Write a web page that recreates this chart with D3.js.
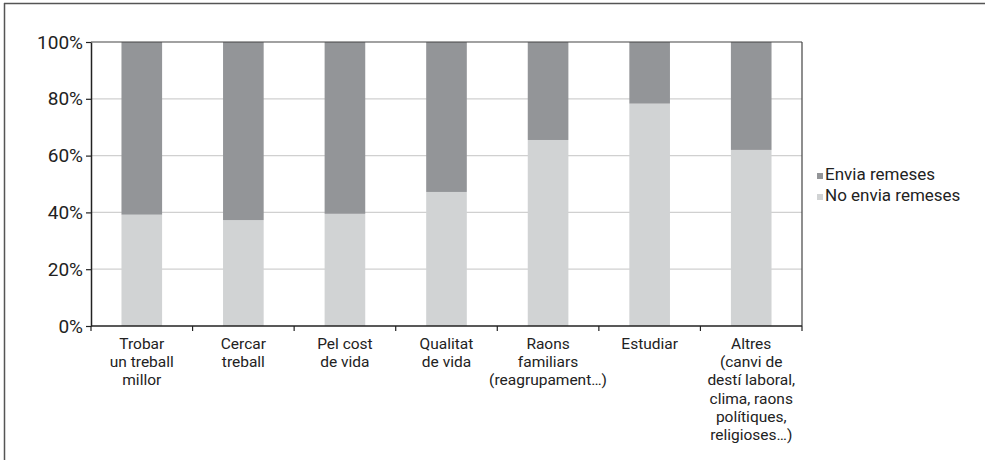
<!DOCTYPE html>
<html><head><meta charset="utf-8">
<script src="https://cdn.jsdelivr.net/npm/d3@7"></script>
<style>
html,body{margin:0;padding:0;background:#fff;}
svg{display:block;font-family:Roboto,"Noto Sans",sans-serif;}
</style></head>
<body>
<svg id="chart" width="985" height="460"></svg>
<script>
const categories = [
  ["Trobar","un treball","millor"],
  ["Cercar","treball"],
  ["Pel cost","de vida"],
  ["Qualitat","de vida"],
  ["Raons","familiars","(reagrupament…)"],
  ["Estudiar"],
  ["Altres","(canvi de","destí laboral,","clima, raons","polítiques,","religioses…)"]
];
const noEnvia = [39.2, 37.3, 39.5, 47.2, 65.5, 78.3, 62.0];
const envia = noEnvia.map(v => 100 - v);
const seriesNames = ["Envia remeses", "No envia remeses"];
const yTicks = [0, 20, 40, 60, 80, 100];
const colors = {"Envia remeses": "#939598", "No envia remeses": "#d1d3d4"};

const svg = d3.select("#chart");
const m = {left: 91, top: 42, right: 802, bottom: 326};

// outer frame (top and left)
svg.append("line").attr("x1",4).attr("x2",985).attr("y1",3.5).attr("y2",3.5).attr("stroke","#555").attr("stroke-width",1.5);
svg.append("line").attr("x1",4.5).attr("x2",4.5).attr("y1",3).attr("y2",460).attr("stroke","#555").attr("stroke-width",1.5);

const x = d3.scaleBand().domain(d3.range(categories.length)).range([m.left, m.right]).paddingInner(0.6).paddingOuter(0.3);
const xb = d3.scaleBand().domain(d3.range(categories.length)).range([m.left, m.right]);
const y = d3.scaleLinear().domain([0,100]).range([m.bottom, m.top]);

// gridlines
svg.append("g").selectAll("line").data(yTicks.filter(t => t>0 && t<100)).join("line")
  .attr("x1", m.left).attr("x2", m.right)
  .attr("y1", d => y(d)).attr("y2", d => y(d))
  .attr("stroke","#d0d0d0").attr("stroke-width",1.2);

// stacked bars
const rows = categories.map((c,i) => ({i, "No envia remeses": noEnvia[i], "Envia remeses": envia[i]}));
const stack = d3.stack().keys(["No envia remeses","Envia remeses"])(rows);
svg.append("g").selectAll("g").data(stack).join("g")
  .attr("fill", d => colors[d.key])
  .selectAll("rect").data(d => d).join("rect")
  .attr("x", d => x(d.data.i))
  .attr("width", x.bandwidth())
  .attr("y", d => y(d[1]))
  .attr("height", d => y(d[0]) - y(d[1]));

// plot frame top & right
svg.append("line").attr("x1",m.left).attr("x2",m.right).attr("y1",y(100)).attr("y2",y(100)).attr("stroke","#444").attr("stroke-width",1.2);
svg.append("line").attr("x1",m.right).attr("x2",m.right).attr("y1",m.top).attr("y2",m.bottom).attr("stroke","#444").attr("stroke-width",1.2);

// y axis
const yAxis = svg.append("g").attr("transform",`translate(${m.left},0)`)
  .call(d3.axisLeft(y).tickValues(yTicks).tickFormat(d => d + "%").tickSize(5).tickSizeOuter(0));
yAxis.select(".domain").attr("stroke","#222").attr("stroke-width",1.5);
yAxis.selectAll(".tick line").attr("stroke","#222").attr("stroke-width",1.2);
yAxis.selectAll("text").attr("font-size",19).attr("fill","#222").attr("x",-8).attr("font-family","Roboto, sans-serif");

// x axis baseline
svg.append("line").attr("x1",m.left).attr("x2",m.right).attr("y1",m.bottom).attr("y2",m.bottom).attr("stroke","#222").attr("stroke-width",1.5);
// boundary ticks
const bounds = d3.range(categories.length+1).map(i => i < categories.length ? xb(i) : m.right);
svg.append("g").selectAll("line").data(bounds).join("line")
  .attr("x1", d=>d).attr("x2", d=>d).attr("y1", m.bottom).attr("y2", m.bottom+5)
  .attr("stroke","#222").attr("stroke-width",1.2);

// category labels
const lab = svg.append("g").selectAll("text").data(categories).join("text")
  .attr("x", (d,i) => xb(i) + xb.bandwidth()/2)
  .attr("y", m.bottom + 23)
  .attr("text-anchor","middle").attr("font-size",15.5).attr("fill","#222");
lab.selectAll("tspan").data(d => d).join("tspan")
  .attr("x", function(){ return this.parentNode.getAttribute("x"); })
  .attr("dy", (d,j) => j === 0 ? 0 : 18.2)
  .text(d => d);

// legend
const leg = svg.append("g").selectAll("g").data(seriesNames).join("g")
  .attr("transform", (d,i) => `translate(817,${180 + i*21})`);
leg.append("rect").attr("x",0).attr("y",-7).attr("width",6).attr("height",6).attr("fill", d => colors[d]);
leg.append("text").attr("x",8).attr("y",0).attr("font-size",17).attr("fill","#222").text(d => d);
</script>
</body></html>
